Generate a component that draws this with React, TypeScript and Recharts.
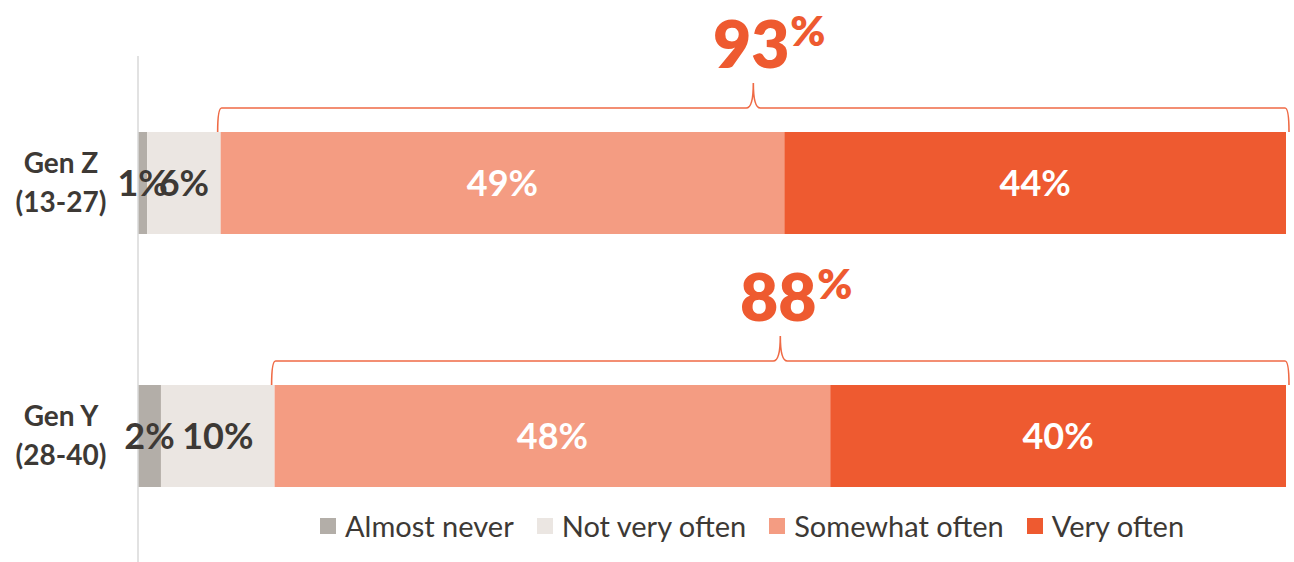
import React from 'react';
import { BarChart, Bar, XAxis, YAxis, Legend, LabelList } from 'recharts';

const groups = ['Gen Z', 'Gen Y'];
const ageRanges = ['(13-27)', '(28-40)'];
const seriesNames = ['Almost never', 'Not very often', 'Somewhat often', 'Very often'];
const almostNever = [0.8, 2.0];
const notVeryOften = [6.4, 9.9];
const somewhatOften = [49.1, 48.4];
const veryOften = [43.7, 39.7];

const colors = ['#b3aea8', '#ebe6e2', '#f49c82', '#ee5a30'];
const textDark = '#3d3935';
const accent = '#ee5a30';
const font = 'Lato, "Noto Sans", sans-serif';

const data = groups.map((g, i) => ({
  name: g,
  age: ageRanges[i],
  almostNever: almostNever[i],
  notVeryOften: notVeryOften[i],
  somewhatOften: somewhatOften[i],
  veryOften: veryOften[i],
}));

const pct = (v: any) => `${Math.round(Number(v))}%`;

const GroupTick = (props: any) => {
  const { y, payload } = props;
  const row = data.find(d => d.name === payload.value);
  return (
    <g>
      <text x={61} y={y - 10} textAnchor="middle" fontSize={28} fontWeight={700} fill={textDark} fontFamily={font}>
        {payload.value}
      </text>
      <text x={61} y={y + 29} textAnchor="middle" fontSize={28} fontWeight={700} fill={textDark} fontFamily={font}>
        {row ? row.age : ''}
      </text>
    </g>
  );
};

// brace over "somewhat" + "very often", drawn from the very-often bar geometry
const BraceLabel = (props: any) => {
  const { x, y, width, value, index } = props;
  const row = data[index] ?? data.find(d => d.veryOften === value);
  if (!row) return null;
  const unit = width / row.veryOften;
  const x0 = x - row.somewhatOften * unit - 3;
  const x1 = x + width + 3;
  const cx = (x0 + x1) / 2;
  const ly = y - 24;
  const peak = ly - 25;
  const r = 4;
  const d = `M ${x0} ${y} Q ${x0} ${ly} ${x0 + r} ${ly} L ${cx - 7} ${ly} Q ${cx} ${ly} ${cx} ${peak} Q ${cx} ${ly} ${cx + 7} ${ly} L ${x1 - r} ${ly} Q ${x1} ${ly} ${x1} ${y}`;
  const total = Math.round(row.somewhatOften + row.veryOften);
  const base = y - 64;
  return (
    <g>
      <path d={d} fill="none" stroke="#ef6a45" strokeWidth={1.6} />
      <text x={cx - 2} y={base} textAnchor="middle" fontSize={66} fontWeight={800} fill={accent} fontFamily={font}>
        {total}
      </text>
      <text x={cx + 37} y={base - 22} textAnchor="start" fontSize={42} fontWeight={800} fill={accent} fontFamily={font}>
        %
      </text>
    </g>
  );
};

const LegendContent = (props: any) => {
  const { payload } = props;
  return (
    <div style={{ display: 'flex', alignItems: 'center', fontFamily: font, fontSize: 29, color: textDark }}>
      {(payload || []).map((p: any) => (
        <div key={p.value} style={{ display: 'flex', alignItems: 'center', marginRight: 23 }}>
          <span style={{ width: 16, height: 16, background: p.color, display: 'inline-block', marginRight: 9 }} />
          <span>{p.value}</span>
        </div>
      ))}
    </div>
  );
};

const labelStyle = { fontSize: 36, fontWeight: 700, fontFamily: font };

export default function App() {
  return (
    <div style={{ position: 'absolute', left: 0, top: 0, background: '#fff' }}>
      <BarChart
        width={1294}
        height={562}
        data={data}
        layout="vertical"
        margin={{ top: 56, right: 8, bottom: 0, left: 0 }}
      >
        <XAxis type="number" domain={[0, 100]} hide />
        <YAxis
          type="category"
          dataKey="name"
          width={138}
          axisLine={{ stroke: '#d9d9d9', strokeWidth: 1.5 }}
          tickLine={false}
          tick={<GroupTick />}
        />
        <Legend
          layout="horizontal"
          align="center"
          verticalAlign="middle"
          wrapperStyle={{ left: 320, top: 508, width: 'auto' }}
          content={<LegendContent />}
        />
        <Bar dataKey="almostNever" name={seriesNames[0]} stackId="a" fill={colors[0]} barSize={102} isAnimationActive={false}>
          <LabelList dataKey="almostNever" position="center" formatter={pct} fill={textDark} style={labelStyle} />
        </Bar>
        <Bar dataKey="notVeryOften" name={seriesNames[1]} stackId="a" fill={colors[1]} barSize={102} isAnimationActive={false}>
          <LabelList dataKey="notVeryOften" position="center" formatter={pct} fill={textDark} style={labelStyle} />
        </Bar>
        <Bar dataKey="somewhatOften" name={seriesNames[2]} stackId="a" fill={colors[2]} barSize={102} isAnimationActive={false}>
          <LabelList dataKey="somewhatOften" position="center" formatter={pct} fill="#ffffff" style={labelStyle} />
        </Bar>
        <Bar dataKey="veryOften" name={seriesNames[3]} stackId="a" fill={colors[3]} barSize={102} isAnimationActive={false}>
          <LabelList dataKey="veryOften" position="center" formatter={pct} fill="#ffffff" style={labelStyle} />
          <LabelList dataKey="veryOften" content={<BraceLabel />} />
        </Bar>
      </BarChart>
    </div>
  );
}
